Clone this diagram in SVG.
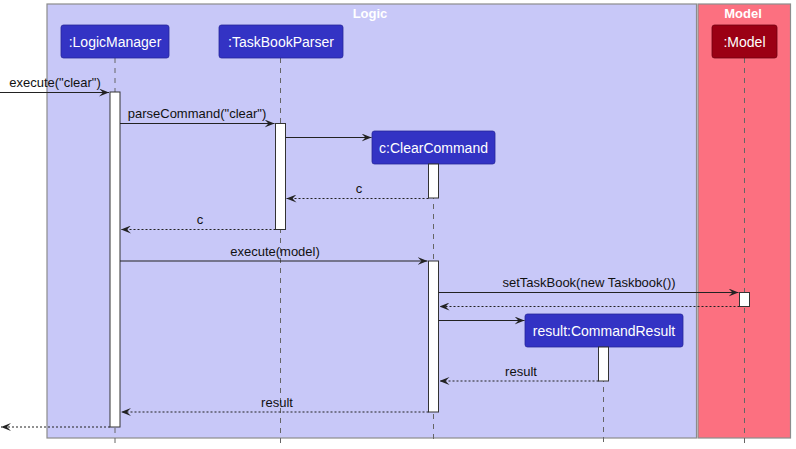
<svg xmlns="http://www.w3.org/2000/svg" width="796" height="449" viewBox="0 0 796 449">
<style>
.grp{stroke:#8c8c8c;stroke-width:1.2}
.gt{font-family:"Liberation Sans",Arial,sans-serif;font-size:13px;font-weight:bold;fill:#ffffff;text-anchor:middle}
.pbox{fill:#3333c4;stroke:#26269a;stroke-width:0.8}
.mbox{fill:#9b0014;stroke:#700010;stroke-width:0.8}
.pt{font-family:"Liberation Sans",Arial,sans-serif;font-size:14px;fill:#ffffff;text-anchor:middle}
.life{stroke:#666;stroke-width:1;stroke-dasharray:5,5;fill:none}
.act{fill:#ffffff;stroke:#333;stroke-width:1}
.msg{stroke:#222;stroke-width:1;fill:none;marker-end:url(#ah)}
.ret{stroke:#222;stroke-width:1;stroke-dasharray:2,2;fill:none;marker-end:url(#ah)}
.ml{font-family:"Liberation Sans",Arial,sans-serif;font-size:13px;fill:#111;text-anchor:middle}
</style>
<defs>
<marker id="ah" viewBox="0 0 10 8" refX="10" refY="4" markerWidth="10" markerHeight="8" markerUnits="userSpaceOnUse" orient="auto">
<path d="M0,0 L10,4 L0,8 L4,4 Z" fill="#222"/>
</marker>
</defs>
<rect width="796" height="449" fill="#ffffff"/>
<g id="group-logic">
<rect class="grp" x="47" y="4" width="649.5" height="434" fill="#c8c8f8"/>
<text class="gt" x="370" y="18">Logic</text>
</g>
<g id="group-model">
<rect class="grp" x="698" y="4" width="92.5" height="434" fill="#fc7080"/>
<text class="gt" x="743" y="18">Model</text>
</g>
<g id="lifelines">
<line class="life" x1="115" y1="58" x2="115" y2="444"/>
<line class="life" x1="280.5" y1="58" x2="280.5" y2="444"/>
<line class="life" x1="433.5" y1="164" x2="433.5" y2="444"/>
<line class="life" x1="603.5" y1="347" x2="603.5" y2="444"/>
<line class="life" x1="744.5" y1="58" x2="744.5" y2="444"/>
</g>
<g id="LogicManager">
<rect class="pbox" x="61" y="25" width="108" height="33" rx="2.5"/>
<text class="pt" x="115" y="47">:LogicManager</text>
<rect class="act" x="110" y="92" width="10" height="335"/>
</g>
<g id="TaskBookParser">
<rect class="pbox" x="219" y="25" width="124" height="33" rx="2.5"/>
<text class="pt" x="281" y="47">:TaskBookParser</text>
<rect class="act" x="275.5" y="123.5" width="10" height="106"/>
</g>
<g id="ClearCommand">
<rect class="pbox" x="372" y="131" width="123" height="33" rx="2.5"/>
<text class="pt" x="433.5" y="153">c:ClearCommand</text>
<rect class="act" x="428.5" y="164" width="10" height="34"/>
<rect class="act" x="428.5" y="261" width="10" height="151"/>
</g>
<g id="CommandResult">
<rect class="pbox" x="525" y="314" width="158" height="33" rx="2.5"/>
<text class="pt" x="604" y="336">result:CommandResult</text>
<rect class="act" x="598.5" y="347" width="10" height="34"/>
</g>
<g id="Model">
<rect class="mbox" x="712" y="25" width="65" height="33" rx="2.5"/>
<text class="pt" x="744.5" y="47">:Model</text>
<rect class="act" x="739.5" y="292.5" width="10" height="14"/>
</g>
<g id="connectors">
<line class="msg" x1="0" y1="92.5" x2="109" y2="92.5"/>
<text class="ml" x="55" y="87" text-anchor="middle">execute("clear")</text>
<line class="msg" x1="120" y1="123.5" x2="274.5" y2="123.5"/>
<text class="ml" x="197" y="118">parseCommand("clear")</text>
<line class="msg" x1="285.5" y1="137.5" x2="371.5" y2="137.5"/>
<line class="ret" x1="428.5" y1="198.5" x2="286.5" y2="198.5"/>
<text class="ml" x="359" y="193">c</text>
<line class="ret" x1="275.5" y1="229.5" x2="121" y2="229.5"/>
<text class="ml" x="200" y="224">c</text>
<line class="msg" x1="120" y1="261" x2="427.5" y2="261"/>
<text class="ml" x="275" y="256">execute(model)</text>
<line class="msg" x1="438.5" y1="292.5" x2="738.5" y2="292.5"/>
<text class="ml" x="589" y="287">setTaskBook(new Taskbook())</text>
<line class="ret" x1="739.5" y1="306.5" x2="439.5" y2="306.5"/>
<line class="msg" x1="438.5" y1="320.5" x2="524.5" y2="320.5"/>
<line class="ret" x1="598.5" y1="381" x2="439.5" y2="381"/>
<text class="ml" x="521" y="376">result</text>
<line class="ret" x1="428.5" y1="412" x2="121" y2="412"/>
<text class="ml" x="277" y="407">result</text>
<line class="ret" x1="110" y1="427" x2="1" y2="427"/>
</g>
</svg>
